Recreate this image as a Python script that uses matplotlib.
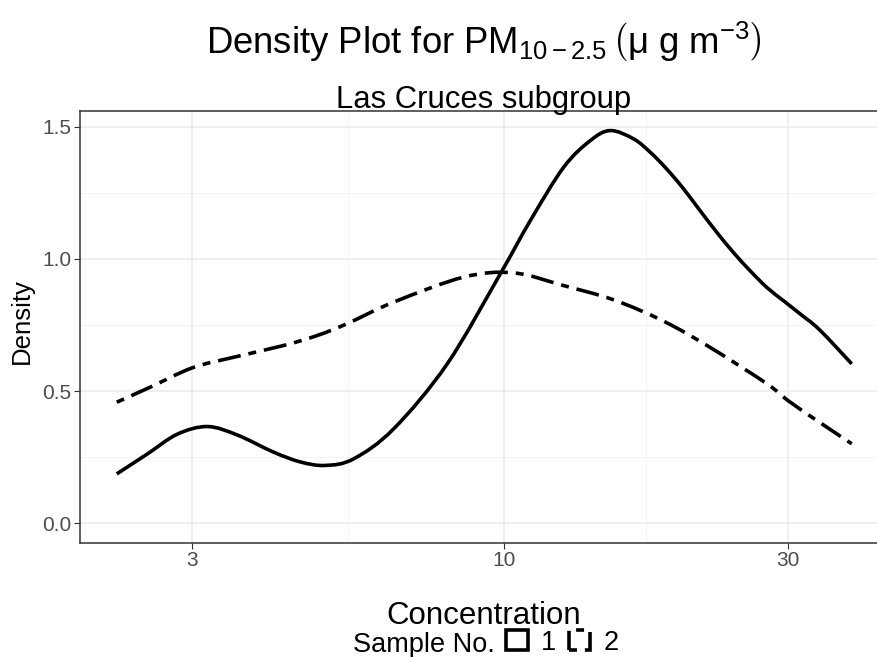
import matplotlib
matplotlib.use("Agg")
import numpy as np
import matplotlib.pyplot as plt
from matplotlib.patches import Patch, PathPatch
from matplotlib.path import Path

plt.rcParams['font.family'] = ['Liberation Sans', 'DejaVu Sans']
plt.rcParams['mathtext.fontset'] = 'custom'
plt.rcParams['mathtext.rm'] = 'Liberation Sans'
plt.rcParams['mathtext.it'] = 'Liberation Sans:italic'

# Density curves (concentration, density)
conc_1 = [2.24, 2.52, 2.83, 3.18, 3.57, 4.11, 4.56, 5.02, 5.60, 6.54,
          8.04, 9.87, 11.09, 12.61, 13.98, 15.10, 16.52, 17.63, 18.80, 20.05,
          21.38, 22.81, 24.32, 25.94, 27.67, 29.50, 31.47, 33.96, 38.43]
dens_1 = [0.187, 0.262, 0.337, 0.366, 0.334, 0.269, 0.232, 0.219, 0.244, 0.358,
          0.603, 0.943, 1.145, 1.346, 1.447, 1.485, 1.454, 1.403, 1.339, 1.265,
          1.182, 1.100, 1.024, 0.955, 0.892, 0.842, 0.792, 0.731, 0.603]

conc_2 = [2.24, 2.55, 3.0, 3.52, 4.28, 4.86, 5.46, 6.53, 8.57, 10.39,
          12.61, 15.30, 18.54, 22.23, 27.67, 30.0, 33.57, 38.43]
dens_2 = [0.458, 0.515, 0.588, 0.628, 0.673, 0.710, 0.755, 0.836, 0.931,
          0.947, 0.899, 0.845, 0.765, 0.665, 0.528, 0.465, 0.389, 0.301]

samples = ['1', '2']
x_ticks = [3, 10, 30]
y_ticks = [0.0, 0.5, 1.0, 1.5]


def smooth_path(xs, ys):
    # Catmull-Rom through the points, built as cubic Bezier segments in log-x space
    lx = np.log10(xs)
    ys = np.asarray(ys, dtype=float)
    p = np.column_stack([lx, ys])
    p = np.vstack([p[0], p, p[-1]])
    verts = [p[1]]
    codes = [Path.MOVETO]
    for i in range(1, len(p) - 2):
        c1 = p[i] + (p[i + 1] - p[i - 1]) / 6
        c2 = p[i + 1] - (p[i + 2] - p[i]) / 6
        verts += [c1, c2, p[i + 1]]
        codes += [Path.CURVE4] * 3
    verts = np.array(verts)
    verts[:, 0] = 10 ** verts[:, 0]
    return Path(verts, codes)


W, H = 878, 657
fig = plt.figure(figsize=(W / 100, H / 100), dpi=100)
ax = fig.add_axes([80 / W, 1 - 543 / H, (888.5 - 80) / W, (543 - 111) / H])

dotdash = (0, (2.2, 2.2, 6.4, 2.2))
ax.add_patch(PathPatch(smooth_path(conc_1, dens_1), facecolor='none',
                       edgecolor='black', lw=2.6, capstyle='butt'))
ax.add_patch(PathPatch(smooth_path(conc_2, dens_2), facecolor='none',
                       edgecolor='black', lw=2.6, linestyle=dotdash))

ax.set_xscale('log')
ax.set_xlim(1.943, 44.3)
ax.set_ylim(-0.0743, 1.559)
ax.set_xticks(x_ticks)
ax.set_xticklabels([str(t) for t in x_ticks])
ax.set_xticks([5.477, 17.32], minor=True)
ax.set_xticklabels(['', ''], minor=True)
ax.set_yticks(y_ticks)
ax.set_yticklabels([f'{t:.1f}' for t in y_ticks])
ax.set_yticks([0.25, 0.75, 1.25], minor=True)

ax.grid(True, which='major', color='#EBEBEB', lw=1.1)
ax.grid(True, which='minor', color='#F2F2F2', lw=0.6)
ax.set_axisbelow(True)
ax.tick_params(which='major', length=4, width=0.8, color='#333333',
               labelcolor='#4D4D4D', labelsize=15, pad=2)
ax.tick_params(which='minor', length=0)
for s in ax.spines.values():
    s.set_color('#333333')
    s.set_linewidth(1.1)

title = (r'Density Plot for PM$_{\mathrm{10' + '\u2212' +
         r'2.5}}\,\left(\mathrm{\mu\ g\ m}^{-3}\right)$')
fig.text(484 / W, 1 - 53.6 / H, title,
         ha='center', va='baseline', fontsize=26.3)
fig.text(484 / W, 1 - 108 / H, 'Las Cruces subgroup',
         ha='center', va='baseline', fontsize=22.3)
fig.text(483.5 / W, 1 - 624 / H, 'Concentration',
         ha='center', va='baseline', fontsize=22.5)
fig.text(21.5 / W, 1 - 321.5 / H, 'Density', rotation=90,
         ha='center', va='center', fontsize=18.5)

fig.text(353 / W, 1 - 652.5 / H, 'Sample No.', ha='left', va='baseline',
         fontsize=19.5)
handles = [Patch(facecolor='none', edgecolor='black', lw=2.6, label=samples[0]),
           Patch(facecolor='none', edgecolor='black', lw=2.6, linestyle=dotdash,
                 label=samples[1])]
fig.legend(handles=handles, loc='center left', ncol=2,
           bbox_to_anchor=(506 / W, 1 - 642.5 / H), frameon=False,
           fontsize=19.5, handlelength=0.8, handleheight=0.8,
           handletextpad=0.5, columnspacing=0.45, borderpad=0,
           borderaxespad=0)

fig.savefig('out.png', dpi=100)
